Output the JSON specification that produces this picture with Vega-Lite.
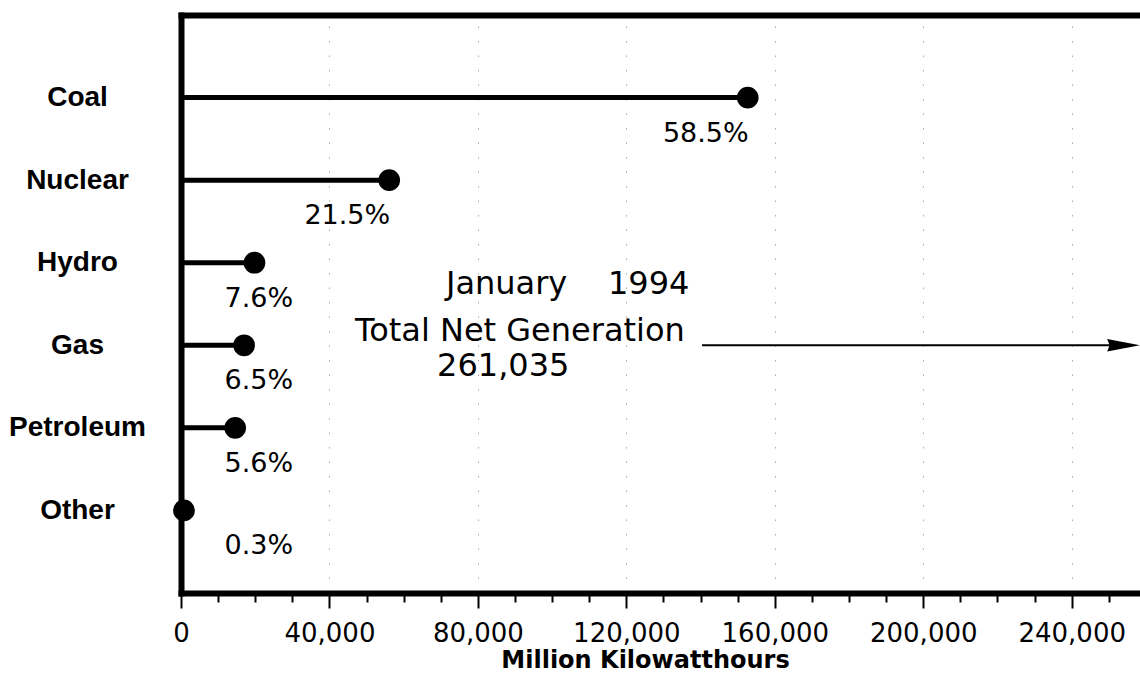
{
  "$schema": "https://vega.github.io/schema/vega-lite/v6.json",
  "width": 959,
  "height": 578,
  "autosize": {"type": "none"},
  "padding": {"left": 181, "top": 15, "right": 0, "bottom": 80},
  "background": "white",
  "config": {"view": {"stroke": null}},
  "data": {"values": [
    {"source": "Coal", "value": 152700, "pct": "58.5%"},
    {"source": "Nuclear", "value": 56100, "pct": "21.5%"},
    {"source": "Hydro", "value": 19800, "pct": "7.6%"},
    {"source": "Gas", "value": 17000, "pct": "6.5%"},
    {"source": "Petroleum", "value": 14600, "pct": "5.6%"},
    {"source": "Other", "value": 800, "pct": "0.3%"}
  ]},
  "layer": [
    {
      "mark": {"type": "rule", "strokeWidth": 5, "color": "black", "strokeCap": "butt"},
      "encoding": {
        "y": {
          "field": "source", "type": "nominal",
          "scale": {"type": "point", "padding": 1, "domain": ["Coal", "Nuclear", "Hydro", "Gas", "Petroleum", "Other"]},
          "axis": {
            "title": null, "domainWidth": 6, "domainColor": "black", "domainCap": "square",
            "ticks": false, "tickSize": 0, "grid": false,
            "labelFont": "Liberation Sans", "labelFontSize": 28, "labelFontWeight": "bold",
            "labelColor": "black", "labelAlign": "center", "labelPadding": 104
          }
        },
        "x": {
          "field": "value", "type": "quantitative",
          "scale": {"domain": [0, 258400], "nice": false},
          "axis": {
            "orient": "bottom",
            "values": [0, 10000, 20000, 30000, 40000, 50000, 60000, 70000, 80000, 90000, 100000, 110000, 120000, 130000, 140000, 150000, 160000, 170000, 180000, 190000, 200000, 210000, 220000, 230000, 240000, 250000],
            "labelExpr": "datum.value % 40000 === 0 ? format(datum.value, ',') : ''",
            "labelFont": "DejaVu Sans", "labelFontSize": 26, "labelColor": "black",
            "labelPadding": 12, "labelFlush": false, "labelOverlap": false,
            "tickColor": "black", "tickWidth": 2,
            "tickSize": {"condition": {"test": "datum.value % 40000 === 0", "value": 15}, "value": 9},
            "domainWidth": 6, "domainColor": "black", "domainCap": "square",
            "grid": true, "gridColor": "#aaaaaa", "gridDash": [1.5, 13], "gridWidth": 1,
            "gridOpacity": {"condition": {"test": "datum.value % 40000 === 0 && datum.value > 0", "value": 1}, "value": 0},
            "title": "Million Kilowatthours", "titleFont": "DejaVu Sans", "titleFontSize": 24,
            "titleFontWeight": "bold", "titleColor": "black", "titleX": 464, "titlePadding": 2
          }
        },
        "x2": {"datum": 0}
      }
    },
    {
      "mark": {"type": "point", "filled": true, "size": 470, "color": "black", "opacity": 1},
      "encoding": {
        "y": {"field": "source", "type": "nominal"},
        "x": {
          "field": "value", "type": "quantitative",
          "axis": {"orient": "top", "labels": false, "ticks": false, "grid": false, "title": null,
                   "domainWidth": 6, "domainColor": "black", "domainCap": "square"}
        }
      }
    },
    {
      "transform": [{"filter": "datum.value > 30000"}],
      "mark": {"type": "text", "font": "DejaVu Sans", "fontSize": 27, "align": "right", "baseline": "middle", "dy": 36, "dx": 1, "color": "black"},
      "encoding": {
        "y": {"field": "source", "type": "nominal"},
        "x": {"field": "value", "type": "quantitative", "axis": null},
        "text": {"field": "pct"}
      }
    },
    {
      "transform": [{"filter": "datum.value <= 30000"}],
      "mark": {"type": "text", "font": "DejaVu Sans", "fontSize": 27, "align": "right", "baseline": "middle", "dy": 36, "color": "black"},
      "encoding": {
        "y": {"field": "source", "type": "nominal"},
        "x": {"datum": 30200, "type": "quantitative", "axis": null},
        "text": {"field": "pct"}
      }
    },
    {
      "data": {"values": [{"note": "January\u00a0\u00a0\u00a0\u00a01994"}]},
      "mark": {"type": "text", "font": "DejaVu Sans", "fontSize": 32, "align": "left", "baseline": "alphabetic", "dy": 31, "color": "black"},
      "encoding": {
        "y": {"datum": "Hydro", "type": "nominal"},
        "x": {"datum": 71400, "type": "quantitative", "axis": null},
        "text": {"field": "note"}
      }
    },
    {
      "data": {"values": [{"note": "Total Net Generation"}]},
      "mark": {"type": "text", "font": "DejaVu Sans", "fontSize": 32, "align": "left", "baseline": "alphabetic", "dy": -4, "color": "black"},
      "encoding": {
        "y": {"datum": "Gas", "type": "nominal"},
        "x": {"datum": 46900, "type": "quantitative", "axis": null},
        "text": {"field": "note"}
      }
    },
    {
      "data": {"values": [{"note": "261,035"}]},
      "mark": {"type": "text", "font": "DejaVu Sans", "fontSize": 32, "align": "left", "baseline": "alphabetic", "dy": 31, "color": "black"},
      "encoding": {
        "y": {"datum": "Gas", "type": "nominal"},
        "x": {"datum": 69000, "type": "quantitative", "axis": null},
        "text": {"field": "note"}
      }
    },
    {
      "data": {"values": [{"total": 261035}]},
      "mark": {"type": "rule", "strokeWidth": 2, "color": "black"},
      "encoding": {
        "y": {"datum": "Gas", "type": "nominal"},
        "x": {"datum": 140400, "type": "quantitative", "axis": null},
        "x2": {"datum": 254000}
      }
    },
    {
      "data": {"values": [{"total": 261035}]},
      "mark": {"type": "point", "shape": "M -1 -0.38 L 1 0 L -1 0.38 L -0.85 0 Z", "filled": true, "size": 1089, "color": "black", "opacity": 1},
      "encoding": {
        "y": {"datum": "Gas", "type": "nominal"},
        "x": {"datum": 254000, "type": "quantitative", "axis": null}
      }
    }
  ],
  "resolve": {"axis": {"x": "independent"}}
}
